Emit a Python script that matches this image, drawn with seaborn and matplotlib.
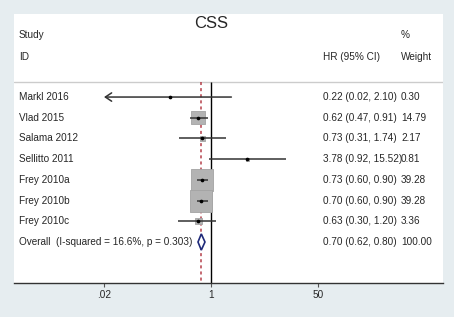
import numpy as np
import pandas as pd
import matplotlib
matplotlib.use("Agg")
import matplotlib.pyplot as plt
import seaborn as sns

# data
studies = ["Markl 2016", "Vlad 2015", "Salama 2012", "Sellitto 2011",
           "Frey 2010a", "Frey 2010b", "Frey 2010c"]
hr = [0.22, 0.62, 0.73, 3.78, 0.73, 0.70, 0.63]
ci_low = [0.02, 0.47, 0.31, 0.92, 0.60, 0.60, 0.30]
ci_high = [2.10, 0.91, 1.74, 15.52, 0.90, 0.90, 1.20]
weight = [0.30, 14.79, 2.17, 0.81, 39.28, 39.28, 3.36]
overall = (0.70, 0.62, 0.80)
overall_label = "Overall  (I-squared = 16.6%, p = 0.303)"
xticks = [0.02, 1, 50]
xticklabels = [".02", "1", "50"]

df = pd.DataFrame({"study": studies, "hr": hr, "lo": ci_low, "hi": ci_high,
                   "weight": weight})
df["row"] = np.arange(len(df))
n = len(df)

sns.set_style("white")
plt.rcParams["font.family"] = ["Liberation Sans", "DejaVu Sans"]

fig = plt.figure(figsize=(4.54, 3.17), dpi=100)
fig.patch.set_facecolor("#e6edf0")
ax = fig.add_axes([14 / 454, 34 / 317, 429 / 454, 269 / 317])
ax.set_facecolor("white")
ax.set_xscale("log")
ax.set_xlim(10 ** -3.127, 10 ** 3.68)
ax.set_ylim(n + 1.98, -4.01)

fs = 7.2
sep = -0.72
tr = ax.get_yaxis_transform()

# header
ax.axhline(sep, color="#cccccc", lw=1)
ax.text(1, -3.57, "CSS", ha="center", va="center", fontsize=12)
ax.text(0.0117, -3.0, "Study", transform=tr, va="center", fontsize=fs)
ax.text(0.0117, -1.93, "ID", transform=tr, va="center", fontsize=fs)
ax.text(0.72, -1.93, "HR (95% CI)", transform=tr, va="center", fontsize=fs)
ax.text(0.902, -3.0, "%", transform=tr, va="center", fontsize=fs)
ax.text(0.902, -1.93, "Weight", transform=tr, va="center", fontsize=fs)

# reference lines
ax.vlines(1, sep, n + 1.98, color="black", lw=1, zorder=2)
ax.vlines(overall[0], sep, n + 1.98, color="#b5404a", lw=1.1,
          linestyles=(0, (2, 2)), zorder=2)

# boxes sized by weight
sns.scatterplot(data=df, x="hr", y="row", size="weight",
                sizes=(0.30 * 6.36, 39.28 * 6.36), size_norm=(0.30, 39.28),
                marker="s", color="#b3b3b3", edgecolor="#a3a3a3", linewidth=0.6,
                legend=False, ax=ax, zorder=3)

# CI lines
for _, r in df.iterrows():
    if r["lo"] <= xticks[0]:
        ax.annotate("", xy=(r["lo"], r["row"]), xytext=(r["hi"], r["row"]),
                    arrowprops=dict(arrowstyle="->,head_length=0.45,head_width=0.3",
                                    color="#333333", lw=1.1, shrinkA=0, shrinkB=0),
                    zorder=4)
    else:
        ax.hlines(r["row"], r["lo"], r["hi"], color="#333333", lw=1.1, zorder=4)
sns.scatterplot(data=df, x="hr", y="row", color="black", s=7, linewidth=0,
                ax=ax, zorder=5)

# overall diamond
oy = n
dx = [overall[1], overall[0], overall[2], overall[0], overall[1]]
dy = [oy, oy - 0.39, oy, oy + 0.39, oy]
ax.fill(dx, dy, facecolor="white", edgecolor="#1f2a7a", lw=1.2, zorder=5)

# row text
for _, r in df.iterrows():
    y = r["row"]
    ax.text(0.0117, y, r["study"], transform=tr, va="center", fontsize=fs)
    ax.text(0.72, y, f"{r['hr']:.2f} ({r['lo']:.2f}, {r['hi']:.2f})",
            transform=tr, va="center", fontsize=fs)
    ax.text(0.902, y, f"{r['weight']:.2f}", transform=tr, va="center", fontsize=fs)
ax.text(0.0117, oy, overall_label, transform=tr, va="center", fontsize=fs)
ax.text(0.72, oy, f"{overall[0]:.2f} ({overall[1]:.2f}, {overall[2]:.2f})",
        transform=tr, va="center", fontsize=fs)
ax.text(0.902, oy, "100.00", transform=tr, va="center", fontsize=fs)

# axes styling
for s in ["top", "left", "right"]:
    ax.spines[s].set_visible(False)
ax.spines["bottom"].set_color("#333333")
ax.spines["bottom"].set_linewidth(1)
ax.set_yticks([])
ax.set_xticks(xticks)
ax.set_xticklabels(xticklabels, fontsize=fs)
ax.minorticks_off()
ax.tick_params(axis="x", bottom=True, length=3, width=0.8, color="#555555", pad=2)
ax.set_xlabel("")
ax.set_ylabel("")

fig.savefig("out.png", dpi=100, facecolor=fig.get_facecolor())
